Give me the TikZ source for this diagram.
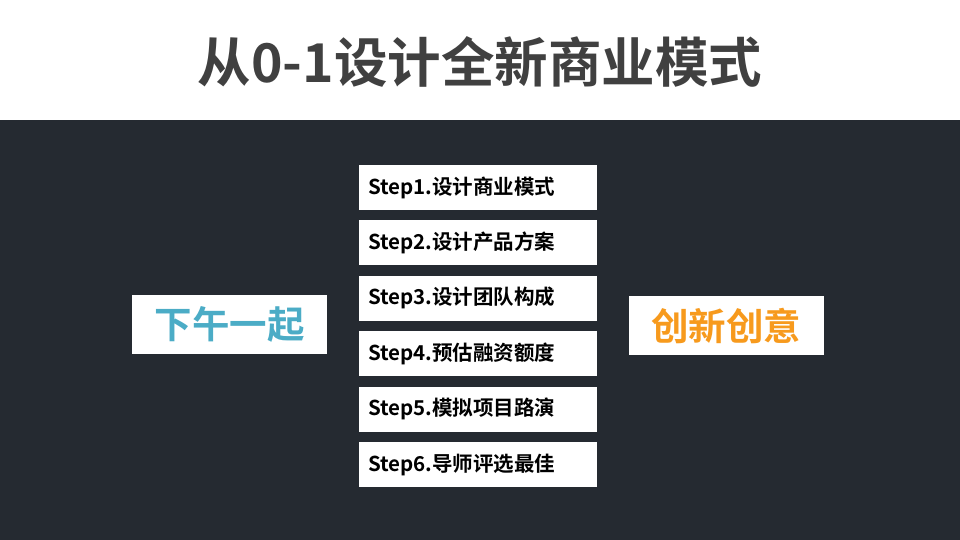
\documentclass[tikz,border=0pt]{standalone}
\usepackage{fontspec}
\setmainfont{Noto Sans CJK SC Bold}
\usetikzlibrary{positioning}
\definecolor{bgdark}{HTML}{252A31}
\definecolor{titlegray}{HTML}{404040}
\definecolor{tealtxt}{HTML}{4BACC6}
\definecolor{orangetxt}{HTML}{F79A1D}
\tikzset{
  stepbox/.style={fill=white, minimum width=238pt, minimum height=45pt,
    text width=220pt, align=left, inner xsep=9pt, font=\fontsize{20.5pt}{24pt}\selectfont},
  sidebox/.style={fill=white, minimum width=195pt, minimum height=59pt, inner sep=0pt,
    font=\fontsize{37.5pt}{44pt}\selectfont}
}
\begin{document}
\begin{tikzpicture}[x=1pt,y=1pt]
    % Fondo
    \useasboundingbox (0,0) rectangle (960,540);
    \fill[white] (0,420) rectangle (960,540);
    \fill[bgdark] (0,0) rectangle (960,420);

    % Título
    \node[titlegray, font=\fontsize{53.5pt}{60pt}\selectfont] (title) at (480,478) {从0-1设计全新商业模式};

    % Pasos
    \node[stepbox] (s1) at (478,352.5) {Step1.设计商业模式};
    \node[stepbox, below=10pt of s1] (s2) {Step2.设计产品方案};
    \node[stepbox, below=10pt of s2] (s3) {Step3.设计团队构成};
    \node[stepbox, below=10pt of s3] (s4) {Step4.预估融资额度};
    \node[stepbox, below=10pt of s4] (s5) {Step5.模拟项目路演};
    \node[stepbox, below=10pt of s5] (s6) {Step6.导师评选最佳};

    % Laterales
    \node[sidebox, text=tealtxt] (left) at (229.5,215.5) {下午一起};
    \node[sidebox, text=orangetxt] (right) at (726,214.5) {创新创意};
\end{tikzpicture}
\end{document}
